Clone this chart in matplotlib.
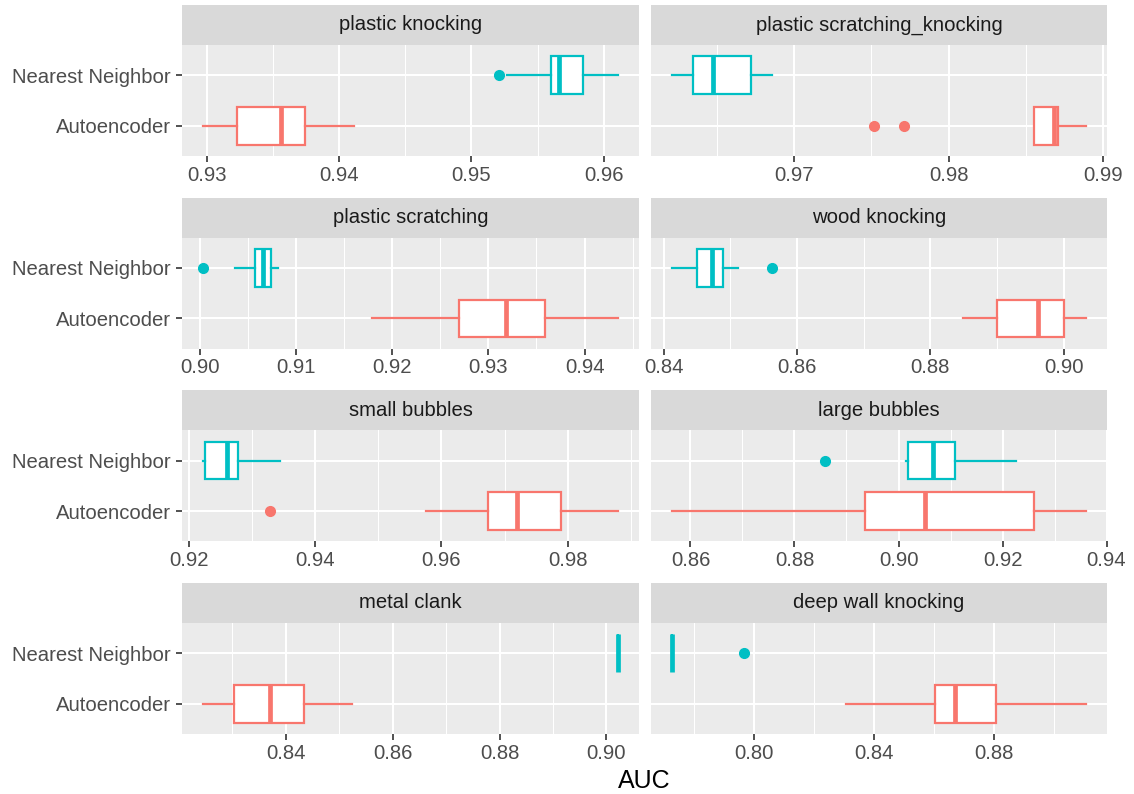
import numpy as np
import matplotlib
matplotlib.use("Agg")
from matplotlib import pyplot as plt
from matplotlib.ticker import MultipleLocator

plt.rcParams['font.family'] = ['Liberation Sans', 'DejaVu Sans']

panels = ["plastic knocking", "plastic scratching_knocking",
          "plastic scratching", "wood knocking",
          "small bubbles", "large bubbles",
          "metal clank", "deep wall knocking"]
categories = ["Autoencoder", "Nearest Neighbor"]

# Autoencoder box stats per panel
ae_whislo = [0.9297, 0.9855, 0.9179, 0.8849, 0.9575, 0.8564, 0.8245, 0.8305]
ae_q1 = [0.9323, 0.9855, 0.9269, 0.8900, 0.9673, 0.8936, 0.8303, 0.8603]
ae_med = [0.9356, 0.9868, 0.9318, 0.8961, 0.9719, 0.9050, 0.8371, 0.8670]
ae_q3 = [0.9374, 0.9871, 0.9359, 0.9001, 0.9789, 0.9261, 0.8435, 0.8808]
ae_whishi = [0.9411, 0.9889, 0.9435, 0.9034, 0.9880, 0.9361, 0.8524, 0.9108]
ae_fliers = [[], [0.9752, 0.9771], [], [], [0.9329], [], [], []]

# Nearest Neighbor box stats per panel
nn_whislo = [0.9527, 0.9621, 0.9037, 0.8412, 0.9222, 0.9015, 0.9022, 0.7725]
nn_q1 = [0.9560, 0.9635, 0.9057, 0.8450, 0.9225, 0.9018, 0.9022, 0.7725]
nn_med = [0.9566, 0.9648, 0.9066, 0.8472, 0.9261, 0.9066, 0.9022, 0.7725]
nn_q3 = [0.9584, 0.9672, 0.9074, 0.8489, 0.9278, 0.9108, 0.9022, 0.7725]
nn_whishi = [0.9611, 0.9686, 0.9081, 0.8512, 0.9344, 0.9225, 0.9022, 0.7725]
nn_fliers = [[0.9521], [], [0.9003], [0.8562], [], [0.8858], [], [0.7965]]

# major tick spacing per panel
tick_step = [0.01, 0.01, 0.01, 0.02, 0.02, 0.02, 0.02, 0.04]

colors = ["#F8766D", "#00BFC4"]
FS = 14.6

W, H = 1134, 794
fig = plt.figure(figsize=(W / 100, H / 100), dpi=100)

col_x = [(182, 639), (651, 1107)]
row_top = [45, 237.7, 430.3, 623]
panel_h = 111
strip_h = 40

for i, name in enumerate(panels):
    r, c = divmod(i, 2)
    x0, x1 = col_x[c]
    top = row_top[r]
    ax = fig.add_axes([x0 / W, 1 - (top + panel_h) / H, (x1 - x0) / W, panel_h / H])
    sax = fig.add_axes([x0 / W, 1 - top / H, (x1 - x0) / W, strip_h / H])
    sax.set_facecolor("#D9D9D9")
    sax.set_xticks([])
    sax.set_yticks([])
    for s in sax.spines.values():
        s.set_visible(False)
    sax.text(0.5, 0.5, name, ha="center", va="center", fontsize=FS,
             color="#1A1A1A", transform=sax.transAxes)

    stats = [
        dict(whislo=ae_whislo[i], q1=ae_q1[i], med=ae_med[i], q3=ae_q3[i],
             whishi=ae_whishi[i], fliers=ae_fliers[i]),
        dict(whislo=nn_whislo[i], q1=nn_q1[i], med=nn_med[i], q3=nn_q3[i],
             whishi=nn_whishi[i], fliers=nn_fliers[i]),
    ]
    for k, st in enumerate(stats):
        col = colors[k]
        ax.bxp([st], positions=[k + 1], widths=0.75, vert=False,
               patch_artist=True, showcaps=False,
               boxprops=dict(facecolor="white", edgecolor=col, linewidth=1.6),
               whiskerprops=dict(color=col, linewidth=1.6),
               medianprops=dict(color=col, linewidth=3.4, solid_capstyle="butt"),
               flierprops=dict(marker="o", markerfacecolor=col, markeredgecolor=col,
                               markersize=7, linestyle="none"))

    allv = [ae_whislo[i], ae_whishi[i], nn_whislo[i], nn_whishi[i]] + ae_fliers[i] + nn_fliers[i]
    lo, hi = min(allv), max(allv)
    pad = (hi - lo) * 0.05
    ax.set_xlim(lo - pad, hi + pad)
    ax.set_ylim(0.4, 2.6)

    ax.xaxis.set_major_locator(MultipleLocator(tick_step[i]))
    ax.xaxis.set_minor_locator(MultipleLocator(tick_step[i] / 2))
    ax.xaxis.set_major_formatter(plt.FormatStrFormatter("%.2f"))
    ax.set_yticks([1, 2])
    ax.set_facecolor("#EBEBEB")
    ax.set_axisbelow(True)
    ax.grid(which="major", color="white", linewidth=1.5)
    ax.grid(which="minor", axis="x", color="white", linewidth=0.75)
    for s in ax.spines.values():
        s.set_visible(False)
    ax.tick_params(axis="x", which="major", length=4, width=1.2, color="#333333",
                   labelsize=FS, labelcolor="#4D4D4D", pad=3)
    ax.tick_params(axis="both", which="minor", length=0)
    if c == 0:
        ax.set_yticklabels(categories)
        ax.tick_params(axis="y", length=4, width=1.2, color="#333333",
                       labelsize=FS, labelcolor="#4D4D4D", pad=4)
    else:
        ax.tick_params(axis="y", length=0, labelleft=False)

fig.text(644.5 / W, 1 - 781 / H, "AUC", ha="center", va="center", fontsize=18, color="black")

fig.savefig("out.png", dpi=100)
